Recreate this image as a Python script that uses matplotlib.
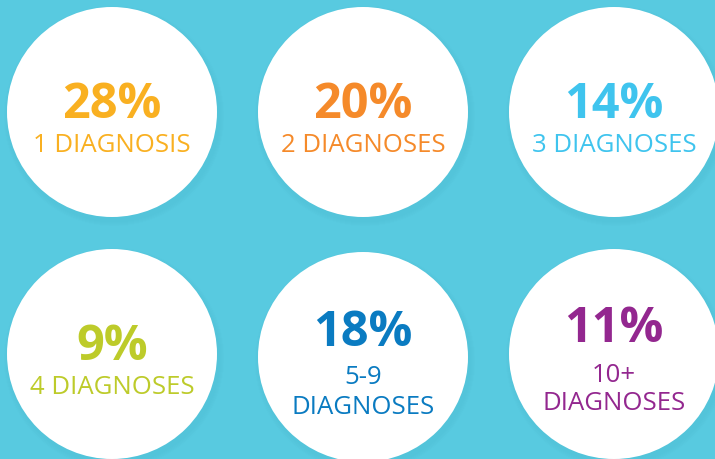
import matplotlib.pyplot as plt
from matplotlib.patches import Circle

# data
percents = [28, 20, 14, 9, 18, 11]
labels = ["1 DIAGNOSIS", "2 DIAGNOSES", "3 DIAGNOSES",
          "4 DIAGNOSES", "5-9\nDIAGNOSES", "10+\nDIAGNOSES"]
colors = ["#F9B021", "#F58A2A", "#3FC4EE", "#BDCB2A", "#0A7BC1", "#93278F"]

W, H = 715, 459
fig = plt.figure(figsize=(W / 100, H / 100), dpi=100)
ax = fig.add_axes([0, 0, 1, 1])
ax.set_xlim(0, W)
ax.set_ylim(H, 0)
ax.set_aspect("equal")
ax.axis("off")
fig.patch.set_facecolor("#58CAE0")

col_x = [112, 363, 614]
row_y = [112, 354]
r = 105

for i, (p, lab, c) in enumerate(zip(percents, labels, colors)):
    cx = col_x[i % 3]
    cy = row_y[i // 3] + (3 if i == 4 else 0)
    # soft shadow
    for k in range(5):
        ax.add_patch(Circle((cx + 2, cy + 4), r + 5 - k, color="#3a9fb5",
                            alpha=0.025, lw=0))
    ax.add_patch(Circle((cx, cy), r, color="white", lw=0))
    two_line = "\n" in lab
    ny = cy - 24 if two_line else cy - 7
    ax.text(cx, ny, f"{p}%", color=c, fontsize=35, fontweight="bold",
            family="Open Sans", ha="center", va="center")
    if two_line:
        top, bot = lab.split("\n")
        ax.text(cx, cy + 21, top, color=c, fontsize=18.5, family="Open Sans",
                ha="center", va="center")
        ax.text(cx, cy + 50, bot, color=c, fontsize=18.5, family="Open Sans",
                ha="center", va="center")
    else:
        ax.text(cx, cy + 33, lab, color=c, fontsize=18.5, family="Open Sans",
                ha="center", va="center")

fig.savefig("out.png", dpi=100, facecolor=fig.get_facecolor())
